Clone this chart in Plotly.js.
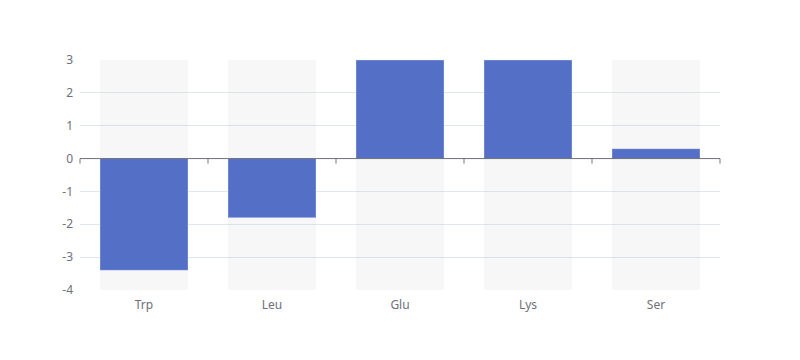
<!DOCTYPE html>
<html>
<head>
<meta charset="utf-8">
<script src="https://cdn.plot.ly/plotly-3.0.1.min.js"></script>
<style>html,body{margin:0;padding:0;background:#fff;}#chart{width:800px;height:360px;}</style>
</head>
<body>
<div id="chart"></div>
<script>
const categories = ["Trp", "Leu", "Glu", "Lys", "Ser"];
const values = [-3.4, -1.8, 3.0, 3.0, 0.3];
const yMin = -4;
const yMax = 3;
const yTicks = [-4, -3, -2, -1, 0, 1, 2, 3];
const yTickLabels = ["-4", "-3", "-2", "-1", "0", "1", "2", "3"];

const bgTrace = {
  type: "bar",
  x: categories,
  y: categories.map(() => yMax - yMin),
  base: categories.map(() => yMin),
  marker: {color: "rgba(180,180,180,0.1)"},
  hoverinfo: "skip",
  showlegend: false
};
const mainTrace = {
  type: "bar",
  x: categories,
  y: values,
  marker: {color: "#5470C6", line: {color: "rgba(255,255,255,0.3)", width: 1}},
  showlegend: false
};

const shapes = [{
  type: "line", layer: "above", xref: "paper", yref: "y",
  x0: 0, x1: 1, y0: 0, y1: 0,
  line: {color: "#6E7079", width: 1}
}];
for (let i = 0; i <= categories.length; i++) {
  shapes.push({
    type: "line", layer: "above", xref: "paper", yref: "y",
    ysizemode: "pixel", yanchor: 0,
    x0: i / categories.length, x1: i / categories.length, y0: 0, y1: -5,
    line: {color: "#6E7079", width: 1}
  });
}

const layout = {
  width: 800, height: 360,
  margin: {l: 80, r: 80, t: 60, b: 70},
  paper_bgcolor: "#fff", plot_bgcolor: "#fff",
  barmode: "overlay",
  bargap: 0.3125,
  font: {family: "Noto Sans, DejaVu Sans, sans-serif", size: 12, color: "#6E7079"},
  xaxis: {
    type: "category",
    showgrid: false, zeroline: false, showline: false,
    ticks: "", ticklabelstandoff: 6,
    tickfont: {size: 12, color: "#6E7079"}
  },
  yaxis: {
    range: [yMin, yMax], tickvals: yTicks, ticktext: yTickLabels,
    showgrid: true, gridcolor: "#E0E6F1", gridwidth: 1,
    zeroline: false, showline: false, ticks: "",
    ticklabelstandoff: 6,
    tickfont: {size: 12, color: "#6E7079"}
  },
  shapes: shapes
};

Plotly.newPlot("chart", [bgTrace, mainTrace], layout, {displayModeBar: false, staticPlot: true});
</script>
</body>
</html>
